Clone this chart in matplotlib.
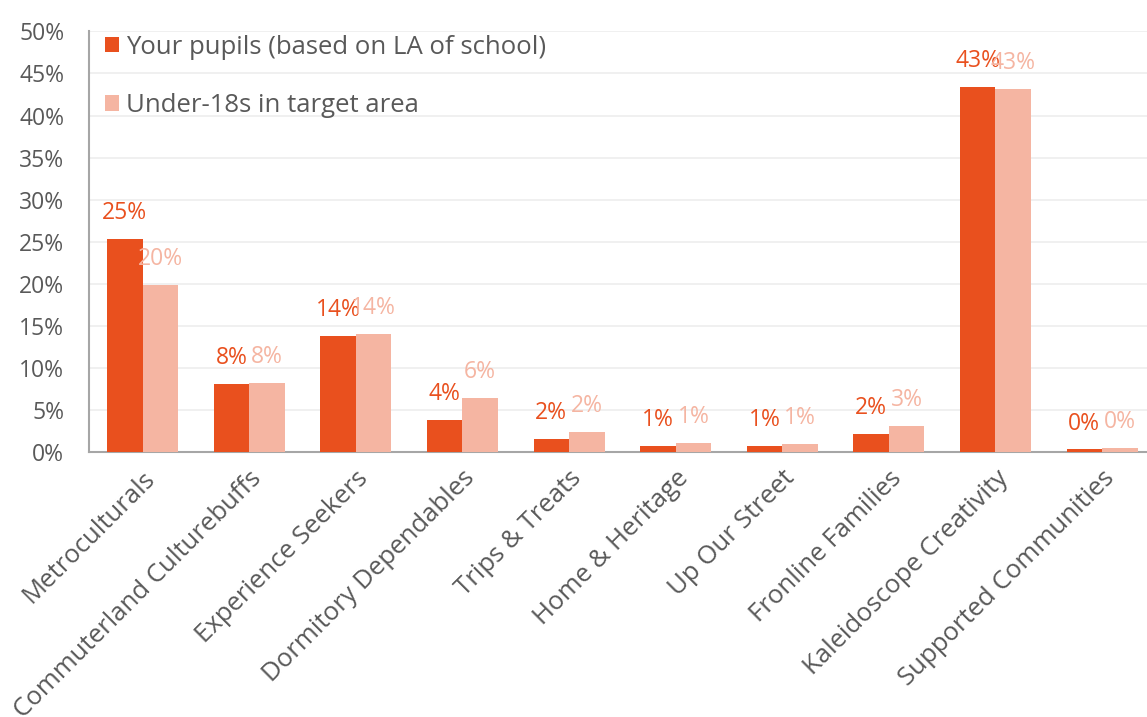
import matplotlib.pyplot as plt
import numpy as np

plt.rcParams['font.family'] = ['Open Sans', 'DejaVu Sans']

segments = ['Metroculturals', 'Commuterland Culturebuffs', 'Experience Seekers',
            'Dormitory Dependables', 'Trips & Treats', 'Home & Heritage',
            'Up Our Street', 'Fronline Families', 'Kaleidoscope Creativity',
            'Supported Communities']
pupils = [25.3, 8.05, 13.8, 3.85, 1.6, 0.75, 0.75, 2.1, 43.4, 0.3]
under18 = [19.9, 8.2, 14.0, 6.4, 2.4, 1.05, 0.95, 3.05, 43.2, 0.45]

dark = '#E9501E'
light = '#F5B5A2'
grey = '#595959'

fig = plt.figure(figsize=(11.47, 7.17), dpi=100)
ax = fig.add_axes([0.0779, 0.3696, 0.9294, 0.5866])

x = np.arange(len(segments))
w = 1 / 3
b1 = ax.bar(x - w / 2, pupils, w, color=dark, label='Your pupils (based on LA of school)', zorder=3)
b2 = ax.bar(x + w / 2, under18, w, color=light, label='Under-18s in target area', zorder=3)

# value labels above each bar, in the bar's colour
for bars, vals, c in [(b1, pupils, dark), (b2, under18, light)]:
    for rect, v in zip(bars, vals):
        ax.annotate(f'{v:.0f}%', (rect.get_x() + rect.get_width() / 2, v),
                    xytext=(0, 10), textcoords='offset points',
                    ha='center', va='bottom', fontsize=16.5, color=c, zorder=4)

ax.set_xlim(-0.5, len(segments) - 0.5)
ax.set_ylim(0, 50)
ax.set_yticks(range(0, 51, 5))
ax.set_yticklabels([f'{t}%' for t in range(0, 51, 5)])
ax.set_xticks(x)
ax.set_xticklabels(segments, rotation=45, ha='right', rotation_mode='anchor')
ax.tick_params(axis='both', length=0, labelcolor=grey)
ax.tick_params(axis='x', pad=10, labelsize=18.5)
ax.tick_params(axis='y', pad=18, labelsize=16.5)

ax.grid(axis='y', color='#EFEFEF', linewidth=1.3, zorder=0)
for s in ['top', 'right']:
    ax.spines[s].set_visible(False)
for s in ['left', 'bottom']:
    ax.spines[s].set_color('#A6A6A6')
    ax.spines[s].set_linewidth(1.5)

ax.legend(loc='upper left', bbox_to_anchor=(-0.002, 1.035), frameon=False, fontsize=18.5,
          labelcolor=grey, handlelength=0.55, handleheight=0.55, handletextpad=0.25,
          labelspacing=1.3, borderaxespad=0.3)

fig.savefig('out.png', dpi=100)
